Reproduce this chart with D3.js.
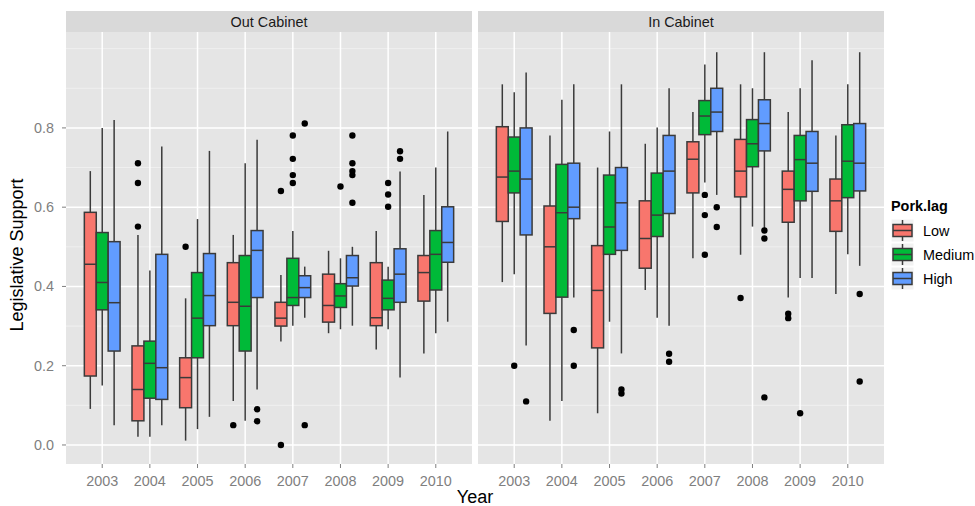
<!DOCTYPE html>
<html>
<head>
<meta charset="utf-8">
<script src="https://cdn.jsdelivr.net/npm/d3@7"></script>
<style>
body { margin: 0; background: #fff; }
svg text { font-family: "Liberation Sans", Arial, Helvetica, sans-serif; }
</style>
</head>
<body>
<div id="chart"></div>
<script>
const years = ['2003', '2004', '2005', '2006', '2007', '2008', '2009', '2010'];
const groups = ['Low', 'Medium', 'High'];
const panels = ['Out Cabinet', 'In Cabinet'];
const yTicks = [0, 0.2, 0.4, 0.6, 0.8];
const yMinor = [0.1, 0.3, 0.5, 0.7, 0.9, 1.0];

// [lower whisker, q1, median, q3, upper whisker] for each year
const outLow = [
    [0.091, 0.174, 0.456, 0.587, 0.691],
    [0.021, 0.061, 0.140, 0.250, 0.530],
    [0.011, 0.094, 0.170, 0.220, 0.370],
    [0.111, 0.301, 0.360, 0.460, 0.530],
    [0.261, 0.300, 0.320, 0.360, 0.429],
    [0.282, 0.310, 0.352, 0.431, 0.490],
    [0.241, 0.301, 0.321, 0.460, 0.540],
    [0.231, 0.363, 0.435, 0.478, 0.631]
];
const outMedium = [
    [0.150, 0.341, 0.410, 0.536, 0.800],
    [0.021, 0.118, 0.206, 0.262, 0.440],
    [0.040, 0.220, 0.320, 0.435, 0.570],
    [0.061, 0.237, 0.350, 0.478, 0.711],
    [0.301, 0.352, 0.372, 0.471, 0.540],
    [0.292, 0.347, 0.376, 0.407, 0.471],
    [0.292, 0.341, 0.370, 0.416, 0.450],
    [0.282, 0.391, 0.481, 0.541, 0.700]
];
const outHigh = [
    [0.050, 0.237, 0.359, 0.513, 0.820],
    [0.050, 0.115, 0.195, 0.481, 0.753],
    [0.071, 0.301, 0.377, 0.483, 0.742],
    [0.140, 0.372, 0.491, 0.541, 0.770],
    [0.321, 0.372, 0.397, 0.427, 0.450],
    [0.301, 0.401, 0.422, 0.478, 0.500],
    [0.170, 0.360, 0.431, 0.495, 0.690],
    [0.311, 0.461, 0.511, 0.601, 0.791]
];
const inLow = [
    [0.411, 0.564, 0.676, 0.803, 0.910],
    [0.061, 0.332, 0.500, 0.603, 0.781],
    [0.080, 0.245, 0.390, 0.503, 0.700],
    [0.391, 0.446, 0.521, 0.616, 0.760],
    [0.471, 0.636, 0.721, 0.765, 0.840],
    [0.480, 0.626, 0.691, 0.771, 0.910],
    [0.372, 0.562, 0.645, 0.691, 0.840],
    [0.381, 0.539, 0.616, 0.671, 0.781]
];
const inMedium = [
    [0.431, 0.636, 0.691, 0.777, 0.890],
    [0.111, 0.373, 0.586, 0.708, 0.871],
    [0.311, 0.481, 0.550, 0.681, 0.791],
    [0.321, 0.526, 0.580, 0.686, 0.801],
    [0.662, 0.783, 0.830, 0.869, 0.960],
    [0.551, 0.702, 0.760, 0.821, 0.900],
    [0.421, 0.616, 0.720, 0.781, 0.900],
    [0.481, 0.624, 0.716, 0.808, 0.910]
];
const inHigh = [
    [0.251, 0.530, 0.671, 0.800, 0.940],
    [0.372, 0.571, 0.600, 0.711, 0.910],
    [0.231, 0.491, 0.611, 0.700, 0.910],
    [0.301, 0.584, 0.691, 0.781, 0.900],
    [0.631, 0.791, 0.840, 0.900, 0.991],
    [0.546, 0.742, 0.811, 0.871, 0.991],
    [0.421, 0.640, 0.711, 0.791, 0.971],
    [0.452, 0.641, 0.711, 0.811, 0.991]
];

// [year, group, value]
const outOutliers = [
    ['2004', 'Low', 0.711], ['2004', 'Low', 0.661], ['2004', 'Low', 0.551],
    ['2005', 'Low', 0.500],
    ['2006', 'Low', 0.050], ['2006', 'High', 0.090], ['2006', 'High', 0.060],
    ['2007', 'Low', 0.641], ['2007', 'Low', 0.000],
    ['2007', 'Medium', 0.781], ['2007', 'Medium', 0.722], ['2007', 'Medium', 0.681], ['2007', 'Medium', 0.661],
    ['2007', 'High', 0.811], ['2007', 'High', 0.050],
    ['2008', 'Medium', 0.652],
    ['2008', 'High', 0.781], ['2008', 'High', 0.711], ['2008', 'High', 0.691], ['2008', 'High', 0.681], ['2008', 'High', 0.611],
    ['2009', 'Medium', 0.661], ['2009', 'Medium', 0.632], ['2009', 'Medium', 0.601],
    ['2009', 'High', 0.741], ['2009', 'High', 0.722]
];
const inOutliers = [
    ['2003', 'Medium', 0.200], ['2003', 'High', 0.110],
    ['2004', 'High', 0.290], ['2004', 'High', 0.200],
    ['2005', 'High', 0.140], ['2005', 'High', 0.130],
    ['2006', 'High', 0.230], ['2006', 'High', 0.210],
    ['2007', 'Medium', 0.631], ['2007', 'Medium', 0.580], ['2007', 'Medium', 0.480],
    ['2007', 'High', 0.600], ['2007', 'High', 0.550],
    ['2008', 'Low', 0.371], ['2008', 'High', 0.541], ['2008', 'High', 0.521], ['2008', 'High', 0.120],
    ['2009', 'Low', 0.331], ['2009', 'Low', 0.320], ['2009', 'Medium', 0.080],
    ['2010', 'High', 0.381], ['2010', 'High', 0.160]
];

const colors = d3.scaleOrdinal().domain(groups).range(['#F8766D', '#00BA38', '#619CFF']);
const lineColor = '#3A3A3A';
const tickColor = '#7F7F7F';
const lw = 1.5;

const svg = d3.select('#chart')
    .append('svg')
    .attr('width', 975)
    .attr('height', 506);

const panelTop = 32, panelBottom = 464;
const y = d3.scaleLinear().domain([-0.048, 1.042]).range([panelBottom, panelTop]);

const panelDefs = [
    { name: panels[0], x0: 66, x1: 472, stats: [outLow, outMedium, outHigh], outliers: outOutliers },
    { name: panels[1], x0: 478, x1: 884, stats: [inLow, inMedium, inHigh], outliers: inOutliers }
];

panelDefs.forEach((p, pi) => {
    const x = d3.scalePoint().domain(years).range([p.x0, p.x1]).padding(0.76);
    const dodge = d3.scaleBand().domain(groups).range([-0.375 * x.step(), 0.375 * x.step()]);
    const bw = dodge.bandwidth();
    const cx = (year, group) => x(year) + dodge(group) + bw / 2;

    const g = svg.append('g');

    g.append('rect')
        .attr('x', p.x0).attr('y', panelTop)
        .attr('width', p.x1 - p.x0).attr('height', panelBottom - panelTop)
        .attr('fill', '#E5E5E5');

    g.selectAll('.minor')
        .data(yMinor.filter(v => y(v) > panelTop))
        .enter().append('line')
        .attr('x1', p.x0).attr('x2', p.x1)
        .attr('y1', d => y(d)).attr('y2', d => y(d))
        .attr('stroke', '#F2F2F2').attr('stroke-width', 0.8);

    g.selectAll('.major')
        .data(yTicks)
        .enter().append('line')
        .attr('x1', p.x0).attr('x2', p.x1)
        .attr('y1', d => y(d)).attr('y2', d => y(d))
        .attr('stroke', '#fff').attr('stroke-width', 1.5);

    g.selectAll('.vmajor')
        .data(years)
        .enter().append('line')
        .attr('x1', d => x(d)).attr('x2', d => x(d))
        .attr('y1', panelTop).attr('y2', panelBottom)
        .attr('stroke', '#fff').attr('stroke-width', 1.5);

    // strip
    g.append('rect')
        .attr('x', p.x0).attr('y', 11)
        .attr('width', p.x1 - p.x0).attr('height', panelTop - 11)
        .attr('fill', '#D9D9D9');
    g.append('text')
        .attr('x', (p.x0 + p.x1) / 2).attr('y', 26.5)
        .attr('text-anchor', 'middle')
        .attr('font-size', '14.4px')
        .attr('fill', '#1A1A1A')
        .text(p.name);

    // boxes
    const boxes = [];
    groups.forEach((grp, gi) => {
        years.forEach((yr, yi) => {
            const s = p.stats[gi][yi];
            boxes.push({ year: yr, group: grp, lo: s[0], q1: s[1], med: s[2], q3: s[3], hi: s[4] });
        });
    });

    const box = g.selectAll('.box')
        .data(boxes)
        .enter().append('g')
        .attr('class', 'box');

    box.append('line')
        .attr('x1', d => cx(d.year, d.group)).attr('x2', d => cx(d.year, d.group))
        .attr('y1', d => y(d.hi)).attr('y2', d => y(d.q3))
        .attr('stroke', lineColor).attr('stroke-width', lw);
    box.append('line')
        .attr('x1', d => cx(d.year, d.group)).attr('x2', d => cx(d.year, d.group))
        .attr('y1', d => y(d.q1)).attr('y2', d => y(d.lo))
        .attr('stroke', lineColor).attr('stroke-width', lw);
    box.append('rect')
        .attr('x', d => cx(d.year, d.group) - bw / 2)
        .attr('y', d => y(d.q3))
        .attr('width', bw)
        .attr('height', d => y(d.q1) - y(d.q3))
        .attr('fill', d => colors(d.group))
        .attr('stroke', lineColor).attr('stroke-width', lw);
    box.append('line')
        .attr('x1', d => cx(d.year, d.group) - bw / 2).attr('x2', d => cx(d.year, d.group) + bw / 2)
        .attr('y1', d => y(d.med)).attr('y2', d => y(d.med))
        .attr('stroke', lineColor).attr('stroke-width', lw);

    g.selectAll('.outlier')
        .data(p.outliers)
        .enter().append('circle')
        .attr('cx', d => cx(d[0], d[1]))
        .attr('cy', d => y(d[2]))
        .attr('r', 3.2)
        .attr('fill', '#000');

    // x axis
    g.selectAll('.xtick')
        .data(years)
        .enter().append('line')
        .attr('x1', d => x(d)).attr('x2', d => x(d))
        .attr('y1', panelBottom).attr('y2', panelBottom + 4)
        .attr('stroke', tickColor);
    g.selectAll('.xlabel')
        .data(years)
        .enter().append('text')
        .attr('x', d => x(d)).attr('y', 486)
        .attr('text-anchor', 'middle')
        .attr('font-size', '14.4px')
        .attr('fill', tickColor)
        .text(d => d);

    if (pi === 0) {
        g.selectAll('.ytick')
            .data(yTicks)
            .enter().append('line')
            .attr('x1', p.x0 - 4).attr('x2', p.x0)
            .attr('y1', d => y(d)).attr('y2', d => y(d))
            .attr('stroke', tickColor);
        g.selectAll('.ylabel')
            .data(yTicks)
            .enter().append('text')
            .attr('x', p.x0 - 12).attr('y', d => y(d) + 5)
            .attr('text-anchor', 'end')
            .attr('font-size', '14.4px')
            .attr('fill', tickColor)
            .text(d => d3.format('.1f')(d));
    }
});

svg.append('text')
    .attr('x', 475).attr('y', 503)
    .attr('text-anchor', 'middle')
    .attr('font-size', '18px')
    .text('Year');

svg.append('text')
    .attr('transform', 'translate(23,255) rotate(-90)')
    .attr('text-anchor', 'middle')
    .attr('font-size', '18px')
    .text('Legislative Support');

// legend
const legend = svg.append('g').attr('transform', 'translate(891,0)');
legend.append('text')
    .attr('x', 0).attr('y', 211)
    .attr('font-size', '14.4px')
    .attr('font-weight', 'bold')
    .text('Pork.lag');

const key = legend.selectAll('.key')
    .data(groups)
    .enter().append('g')
    .attr('transform', (d, i) => 'translate(0,' + (219 + i * 24) + ')');

key.append('rect')
    .attr('width', 23).attr('height', 23)
    .attr('fill', '#F2F2F2')
    .attr('stroke', '#fff');
key.append('line')
    .attr('x1', 11.5).attr('x2', 11.5)
    .attr('y1', 1).attr('y2', 22)
    .attr('stroke', lineColor).attr('stroke-width', lw);
key.append('rect')
    .attr('x', 2).attr('y', 5.5)
    .attr('width', 19).attr('height', 12)
    .attr('fill', d => colors(d))
    .attr('stroke', lineColor).attr('stroke-width', lw);
key.append('line')
    .attr('x1', 2).attr('x2', 21)
    .attr('y1', 11.5).attr('y2', 11.5)
    .attr('stroke', lineColor).attr('stroke-width', lw);
key.append('text')
    .attr('x', 32).attr('y', 17)
    .attr('font-size', '14.4px')
    .text(d => d);
</script>
</body>
</html>
